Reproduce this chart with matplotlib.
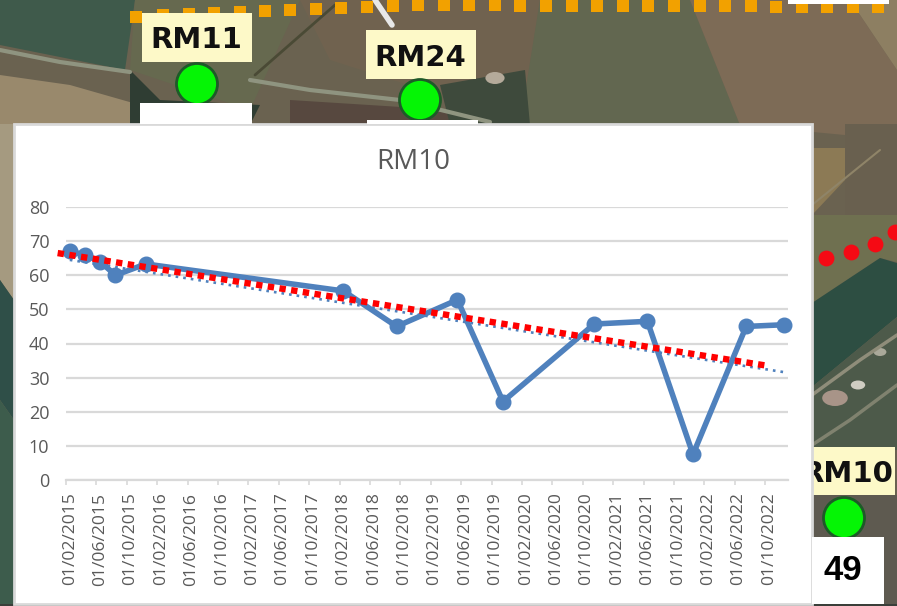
import matplotlib
matplotlib.use('Agg')
import matplotlib.pyplot as plt
from matplotlib.patches import Rectangle, Polygon, Ellipse

# months counted from 01/02/2015
mesi = [0, 2, 4, 6, 10, 36, 43, 51, 57, 69, 76, 82, 89, 94]
valori = [67, 66, 64, 60, 63.3, 55.4, 45, 52.8, 23, 45.7, 46.5, 7.5, 45, 45.5]

trend_x = [0, 94]
trend_y = [64.5, 31.6]
rossa_x = [-1.6, 92]
rossa_y = [66.5, 33.4]

tick_mesi = list(range(0, 95, 4))
tick_date = ['01/02/2015', '01/06/2015', '01/10/2015', '01/02/2016', '01/06/2016', '01/10/2016',
             '01/02/2017', '01/06/2017', '01/10/2017', '01/02/2018', '01/06/2018', '01/10/2018',
             '01/02/2019', '01/06/2019', '01/10/2019', '01/02/2020', '01/06/2020', '01/10/2020',
             '01/02/2021', '01/06/2021', '01/10/2021', '01/02/2022', '01/06/2022', '01/10/2022']
tick_y = [0, 10, 20, 30, 40, 50, 60, 70, 80]

# background photo blocks, pixel coordinates
campi = [
    ('#6a6250', [(0, 0), (897, 0), (897, 606), (0, 606)]),
    ('#3f5a4b', [(0, 0), (135, 0), (125, 70), (0, 45)]),
    ('#66694f', [(135, 0), (300, 0), (250, 110), (130, 70)]),
    ('#70624f', [(300, 0), (540, 0), (520, 125), (440, 95), (330, 60)]),
    ('#626750', [(540, 0), (690, 0), (740, 125), (520, 125)]),
    ('#7d6b56', [(690, 0), (850, 0), (897, 70), (897, 140), (740, 125)]),
    ('#8d7f62', [(850, 0), (897, 0), (897, 70)]),
    ('#99896c', [(0, 75), (70, 85), (140, 105), (130, 125), (0, 125)]),
    ('#2f3d33', [(130, 70), (160, 100), (260, 105), (250, 125), (130, 125)]),
    ('#57483f', [(290, 100), (480, 112), (480, 125), (290, 125)]),
    ('#3e4a3c', [(440, 85), (525, 70), (530, 125), (450, 125)]),
    ('#8c7a55', [(812, 148), (845, 148), (845, 180), (812, 215)]),
    ('#69604f', [(845, 124), (897, 124), (897, 225), (845, 215)]),
    ('#6f7050', [(812, 215), (897, 215), (897, 262), (880, 258), (812, 303)]),
    ('#2d4e42', [(812, 303), (880, 258), (897, 263), (897, 317), (812, 387)]),
    ('#4d5a4a', [(812, 387), (897, 317), (897, 450), (812, 450)]),
    ('#5e5a50', [(812, 495), (897, 495), (897, 606), (812, 606)]),
    ('#a59a80', [(0, 124), (14, 124), (14, 300), (0, 280)]),
    ('#2f4f48', [(0, 280), (14, 300), (14, 420), (0, 400)]),
    ('#3d5c4c', [(0, 400), (14, 420), (14, 606), (0, 606)]),
    ('#3a3f3a', [(0, 604), (897, 604), (897, 606), (0, 606)]),
]
strade = [
    ([(0, 50), (60, 62), (130, 72)], '#8f9480', 3),
    ([(250, 80), (310, 90), (400, 100), (490, 122)], '#8f9480', 3),
    ([(255, 75), (335, 5)], '#4a4a35', 2),
    ([(375, 0), (392, 25)], '#e8e8e8', 4),
    ([(812, 445), (850, 420), (897, 385)], '#80826f', 2.5),
    ([(812, 395), (860, 360), (897, 335)], '#8f8d7a', 2.5),
    ([(812, 205), (880, 150)], '#8f8468', 1.5),
]
case = [(835, 398, 16, '#a89488'), (858, 385, 9, '#cfcdc2'), (880, 352, 8, '#aaa99a'), (495, 78, 12, '#b4aa9a')]

arancio_x = [136, 163, 189, 214, 240, 265, 290, 316, 341, 367, 393, 418, 444, 469, 495, 520, 546, 572,
             597, 623, 648, 674, 700, 725, 751, 776, 802, 827, 853, 878]
arancio_y = [17, 15, 14, 13, 12, 11, 10, 9, 8, 7, 6, 5, 5, 5, 5, 6, 6, 6, 6, 6, 6, 6, 6, 6, 6, 7, 7, 7, 7, 7]
rossi_x = [826, 851, 875, 895]
rossi_y = [258, 252, 244, 232]

etichette = [('RM11', 142, 13, 110, 49, 196, 40), ('RM24', 366, 30, 110, 49, 420, 58),
             ('RM10', 800, 447, 95, 48, 847, 474)]
punti = [(197, 84), (420, 100), (844, 518)]
bianchi = [(140, 103, 112, 21), (367, 120, 111, 4), (788, 0, 101, 4), (812, 537, 72, 67)]

fig = plt.figure(figsize=(8.97, 6.06), dpi=100)

sf = fig.add_axes([0, 0, 1, 1], zorder=0)
sf.set_xlim(0, 897)
sf.set_ylim(606, 0)
sf.axis('off')

for colore, pts in campi:
    sf.add_patch(Polygon(pts, closed=True, color=colore, lw=0))
for pts, colore, w in strade:
    sf.plot([p[0] for p in pts], [p[1] for p in pts], color=colore, lw=w, solid_capstyle='round')
for cx, cy, r, colore in case:
    sf.add_patch(Ellipse((cx, cy), r * 1.6, r, color=colore, lw=0))

sf.scatter(arancio_x, arancio_y, marker='s', s=85, color='#f2a100', lw=0, zorder=3)
sf.scatter(rossi_x, rossi_y, marker='o', s=130, color='#f50a14', lw=0, zorder=3)

for testo, x0, y0, w, h, tx, ty in etichette:
    sf.add_patch(Rectangle((x0, y0), w, h, fc='#fdf9c8', ec='none', zorder=4))
    sf.text(tx, ty, testo, fontsize=21, fontweight='bold', family='DejaVu Sans', color='#111111',
            ha='center', va='center', zorder=5)
for cx, cy in punti:
    sf.add_patch(Ellipse((cx, cy), 41, 41, fc='#05f505', ec='#1e5a28', lw=2, zorder=4))

# white chart panel covers the label of RM10 on its left side
sf.add_patch(Rectangle((14, 124), 798, 480, fc='white', ec='#d9d9d9', lw=2, zorder=6))
for x0, y0, w, h in bianchi:
    sf.add_patch(Rectangle((x0, y0), w, h, fc='white', ec='none', zorder=7))
sf.text(843, 571, '49', fontsize=25, fontweight='bold', family='Liberation Sans', color='black',
        ha='center', va='center', zorder=8)
sf.text(413, 162, 'RM10', fontsize=20, family='Open Sans', color='#595959', ha='center', va='center', zorder=8)

ax = fig.add_axes([66 / 897, (606 - 480) / 606, (788 - 66) / 897, (480 - 207) / 606], zorder=2)
ax.patch.set_alpha(0)
ax.set_xlim(-0.5, 94.5)
ax.set_ylim(0, 80)

ax.plot(mesi, valori, color='#4f81bd', lw=4, marker='o', ms=10.5, zorder=3, clip_on=False)
ax.plot(trend_x, trend_y, color='#4f81bd', lw=1.9, linestyle=(0, (1, 1.9)), zorder=4)
ax.plot(rossa_x, rossa_y, color='#ff0000', lw=4.6, linestyle=(0, (1, 0.85)), zorder=5, clip_on=False)

ax.set_yticks(tick_y)
ax.tick_params(axis='y', length=0, pad=12, labelsize=13, labelcolor='#595959')
ax.grid(axis='y', color='#d9d9d9', lw=1.6)
ax.set_axisbelow(True)

# tick marks sit between the months, labels in the middle of the month
ax.set_xticks([m - 0.5 for m in tick_mesi])
ax.set_xticklabels([])
ax.tick_params(axis='x', which='major', length=3.6, width=1.2, color='#d9d9d9')
ax.set_xticks(tick_mesi, minor=True)
ax.set_xticklabels(tick_date, minor=True, rotation=90, fontsize=12.6, color='#595959')
ax.tick_params(axis='x', which='minor', length=0, pad=9)

for lato in ['top', 'right', 'left']:
    ax.spines[lato].set_visible(False)
ax.spines['bottom'].set_color('#d9d9d9')
ax.spines['bottom'].set_linewidth(1.6)

for t in ax.get_yticklabels() + ax.get_xticklabels(minor=True):
    t.set_family('Open Sans')

fig.savefig('out.png', dpi=100)
